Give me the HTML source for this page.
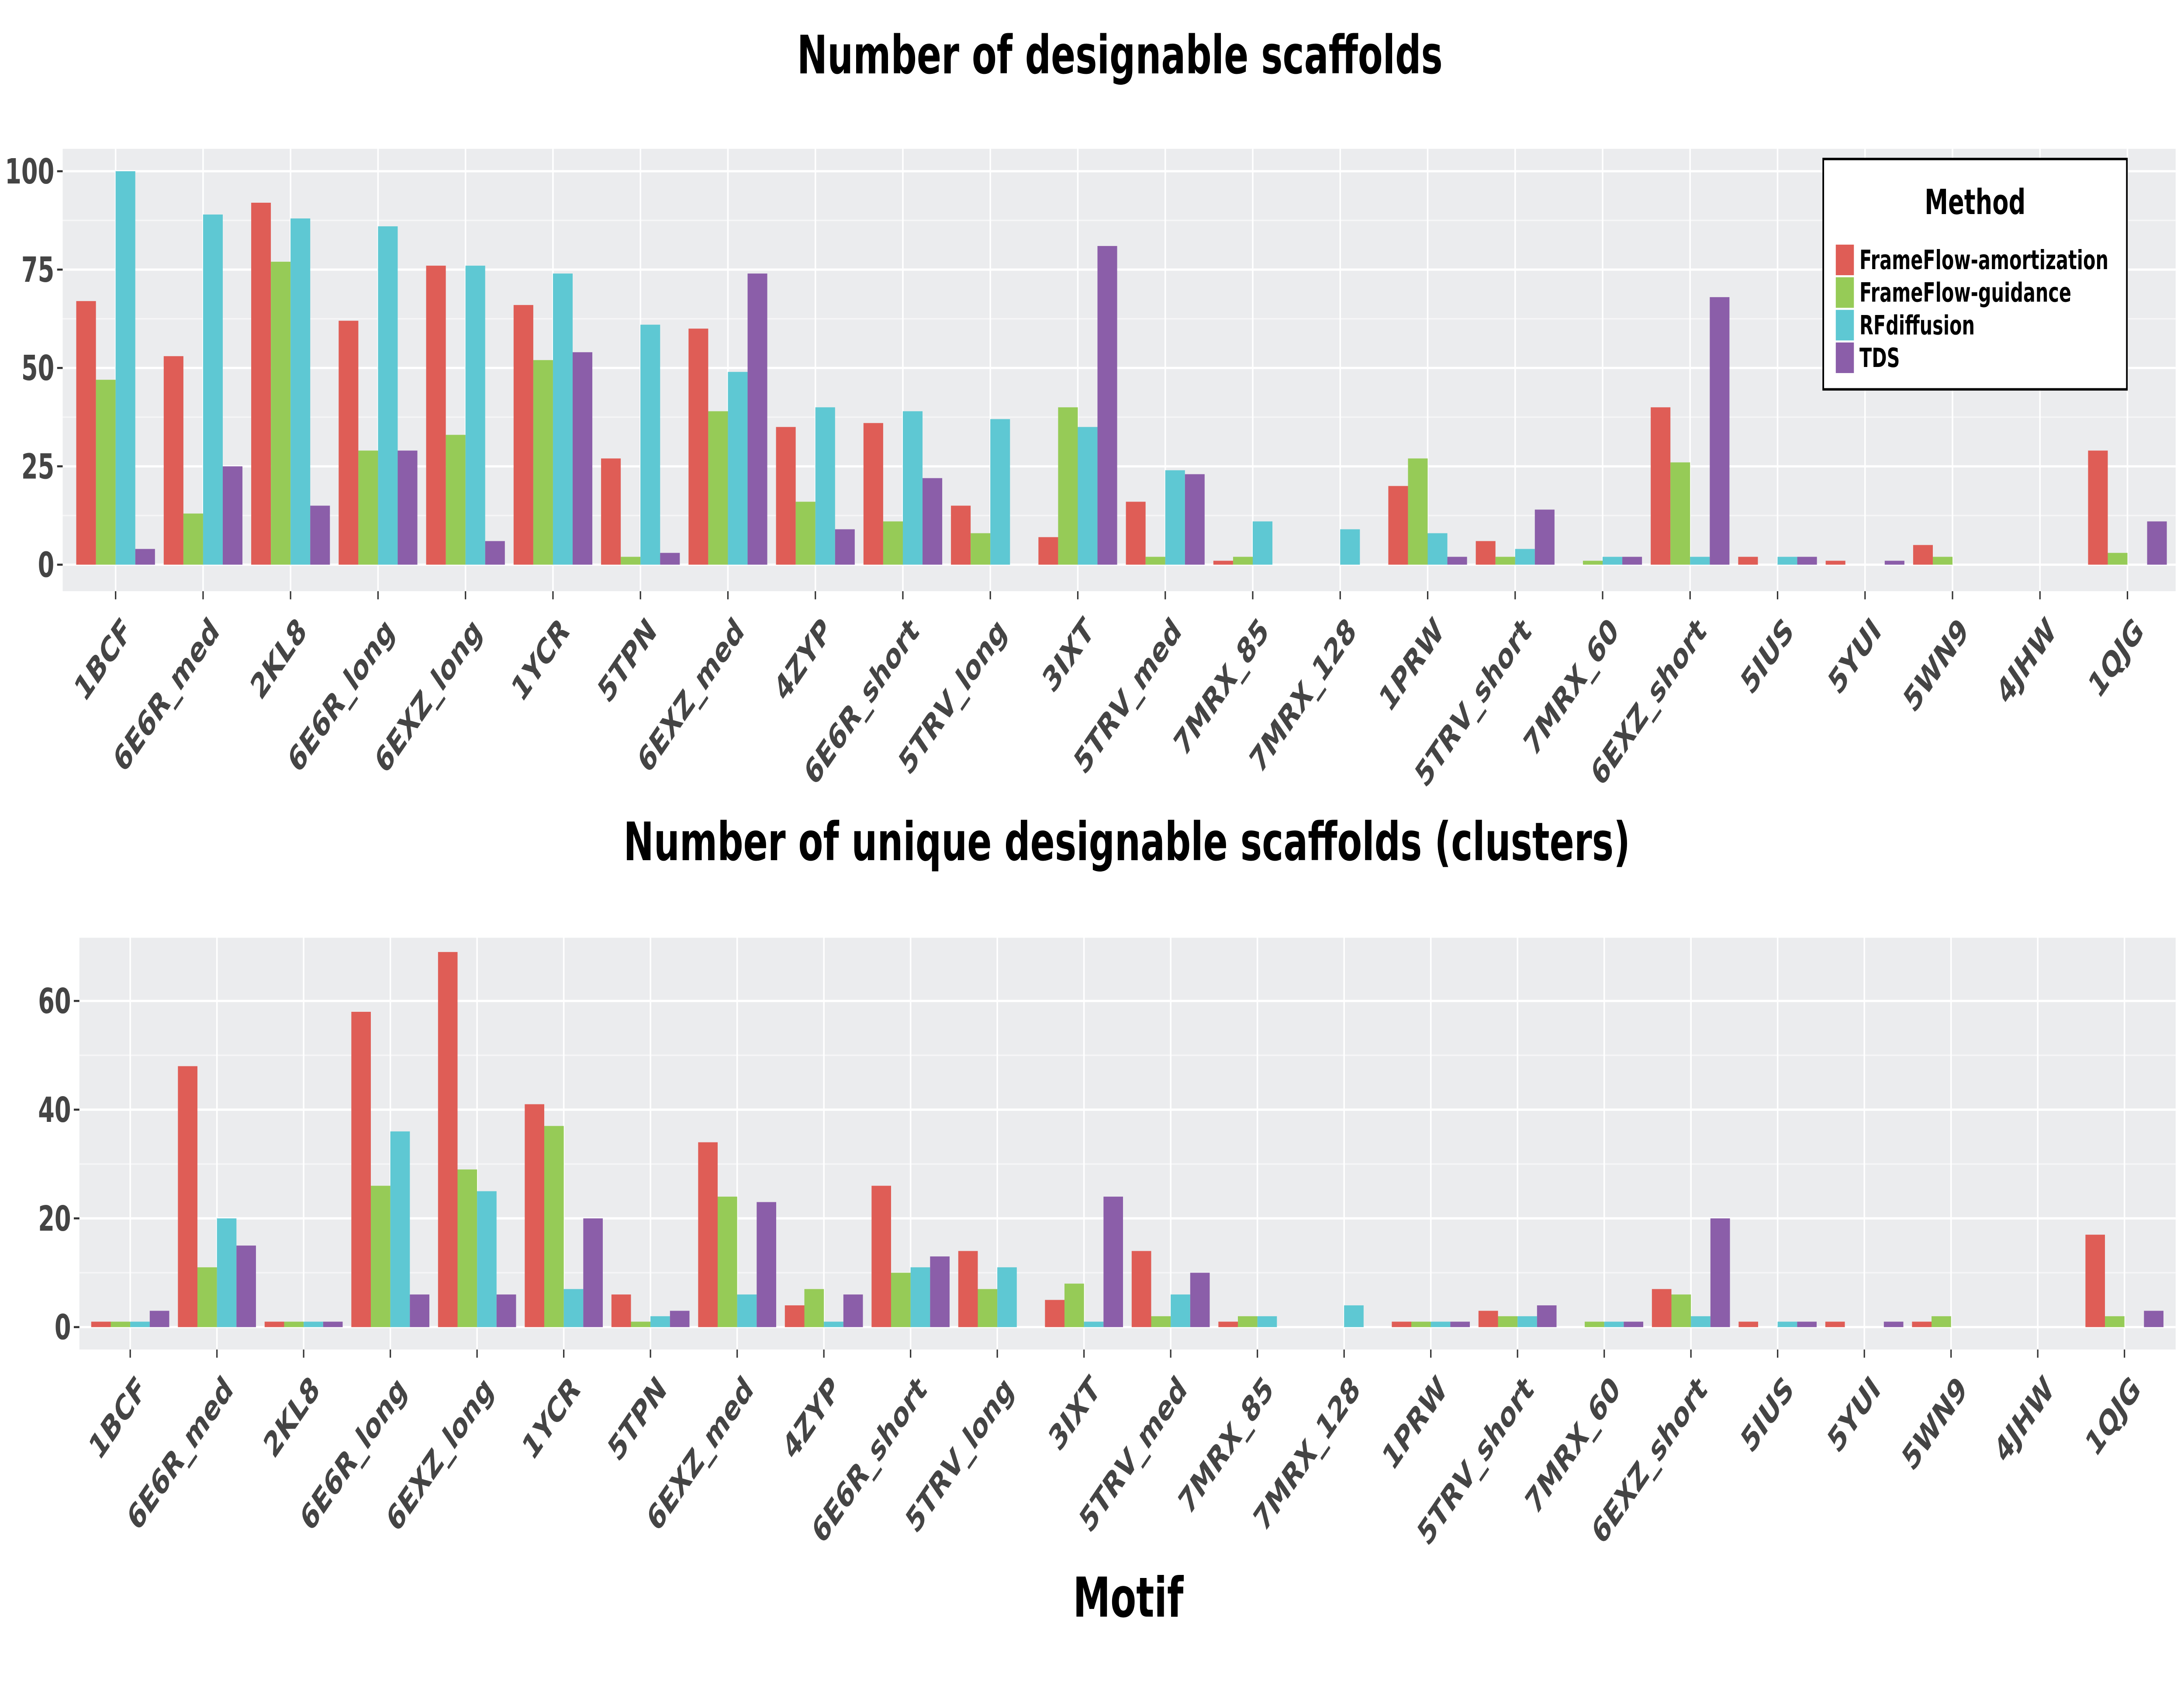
<!DOCTYPE html>
<html><head><meta charset="utf-8"><style>
html,body{margin:0;padding:0;background:#fff;width:100%;height:100%;overflow:hidden}
svg{display:block;position:absolute;left:0;top:0;width:100vw;height:100vh;font-family:"DejaVu Sans","Liberation Sans",sans-serif;font-weight:bold}
</style></head><body>
<svg id="chart" viewBox="0 0 1568 830" preserveAspectRatio="none" xmlns="http://www.w3.org/2000/svg">
<g id="root"></g>
</svg>
<script>
const categories = ["1BCF","6E6R_med","2KL8","6E6R_long","6EXZ_long","1YCR","5TPN","6EXZ_med","4ZYP","6E6R_short","5TRV_long","3IXT","5TRV_med","7MRX_85","7MRX_128","1PRW","5TRV_short","7MRX_60","6EXZ_short","5IUS","5YUI","5WN9","4JHW","1QJG"];
const methods = ["FrameFlow-amortization","FrameFlow-guidance","RFdiffusion","TDS"];
const colors = ["#df5d56","#96cb57","#5ec8d3","#8b5ea9"];
const topAmort = [67,53,92,62,76,66,27,60,35,36,15,7,16,1,0,20,6,0,40,2,1,5,0,29];
const topGuid  = [47,13,77,29,33,52,2,39,16,11,8,40,2,2,0,27,2,1,26,0,0,2,0,3];
const topRFd   = [100,89,88,86,76,74,61,49,40,39,37,35,24,11,9,8,4,2,2,2,0,0,0,0];
const topTDS   = [4,25,15,29,6,54,3,74,9,22,0,81,23,0,0,2,14,2,68,2,1,0,0,11];
const botAmort = [1,48,1,58,69,41,6,34,4,26,14,5,14,1,0,1,3,0,7,1,1,1,0,17];
const botGuid  = [1,11,1,26,29,37,1,24,7,10,7,8,2,2,0,1,2,1,6,0,0,2,0,2];
const botRFd   = [1,20,1,36,25,7,2,6,1,11,11,1,6,2,4,1,2,1,2,1,0,0,0,0];
const botTDS   = [3,15,1,6,6,20,3,23,6,13,0,24,10,0,0,1,4,1,20,1,1,0,0,3];
const topTicks = [0,25,50,75,100];
const botTicks = [0,20,40,60];

const NS="http://www.w3.org/2000/svg";
const root=document.getElementById('root');
function mk(tag,attrs,parent,text){const e=document.createElementNS(NS,tag);for(const k in attrs)e.setAttribute(k,attrs[k]);if(text!==undefined)e.textContent=text;(parent||root).appendChild(e);return e;}

function panel(cfg){
  const g=mk('g',{});
  
  
  const bg=mk('rect',{x:cfg.x0,y:cfg.y0,width:cfg.x1-cfg.x0,height:cfg.y1-cfg.y0,fill:'#ebecee'},g);
  
  
  const ys=v=>cfg.zeroY-(v/cfg.vmax)*(cfg.zeroY-cfg.maxY);
  const xc=i=>cfg.c0+i*cfg.step;
  for(let k=0;k<cfg.ticks.length-1;k++){
    const v=(cfg.ticks[k]+cfg.ticks[k+1])/2;
    mk('line',{x1:cfg.x0,x2:cfg.x1,y1:ys(v),y2:ys(v),stroke:'#f6f6f7','stroke-width':0.7},g);
  }
  cfg.ticks.forEach(t=>{
    mk('line',{x1:cfg.x0,x2:cfg.x1,y1:ys(t),y2:ys(t),stroke:'#ffffff','stroke-width':1.1},g);
    mk('line',{x1:cfg.x0-4,x2:cfg.x0,y1:ys(t),y2:ys(t),stroke:'#333','stroke-width':1},g);
    const tl=mk('text',{x:cfg.x0-6,y:ys(t)+6,'text-anchor':'end','font-size':17,fill:'#444'},g,String(t));
    
    
  });
  categories.forEach((c,i)=>{
    mk('line',{x1:xc(i),x2:xc(i),y1:cfg.y0,y2:cfg.y1,stroke:'#ffffff','stroke-width':1.1},g);
    mk('line',{x1:xc(i),x2:xc(i),y1:cfg.y1,y2:cfg.y1+4,stroke:'#333','stroke-width':1},g);
    const lx=xc(i)+4, ly=cfg.y1+12;
    const tl=mk('text',{x:lx,y:ly,'text-anchor':'end','font-size':17,fill:'#444',transform:`rotate(-45 ${lx} ${ly})`,dy:'0.7em'},g,c);
    
    
  });
  const bw=cfg.step*0.9/4;
  cfg.series.forEach((arr,s)=>{
    arr.forEach((v,i)=>{
      const x=xc(i)-cfg.step*0.45+s*bw;
      const r=mk('rect',{x:x,y:ys(v),width:bw,height:Math.max(0,cfg.zeroY-ys(v)),fill:colors[s]},g);
      
      
    });
  });
}

const t1=mk('text',{x:804,y:36,'text-anchor':'middle','font-size':26,fill:'#000'},root,'Number of designable scaffolds');


panel({name:'top-panel',x0:45,x1:1562,y0:73,y1:290,zeroY:277,maxY:84,vmax:100,c0:83,step:62.8,ticks:topTicks,series:[topAmort,topGuid,topRFd,topTDS]});

const t2=mk('text',{x:809,y:422,'text-anchor':'middle','font-size':26,fill:'#000'},root,'Number of unique designable scaffolds (clusters)');


panel({name:'bottom-panel',x0:57,x1:1562,y0:460,y1:662,zeroY:651,maxY:491,vmax:60,c0:93.5,step:62.25,ticks:botTicks,series:[botAmort,botGuid,botRFd,botTDS]});

const xt=mk('text',{x:810,y:793,'text-anchor':'middle','font-size':27,fill:'#000'},root,'Motif');



const lg=mk('g',{});


mk('rect',{x:1309,y:78,width:218,height:113,fill:'#fff',stroke:'#000','stroke-width':1.2},lg);
const lt=mk('text',{x:1418,y:105,'text-anchor':'middle','font-size':17,fill:'#000'},lg,'Method');


methods.forEach((m,s)=>{
  const y=120+s*16;
  const sw=mk('rect',{x:1318,y:y,width:13,height:15,fill:colors[s]},lg);
  
  
  const tx=mk('text',{x:1335,y:y+12,'font-size':13,fill:'#000'},lg,m);
  
  
});
</script>
</body></html>
